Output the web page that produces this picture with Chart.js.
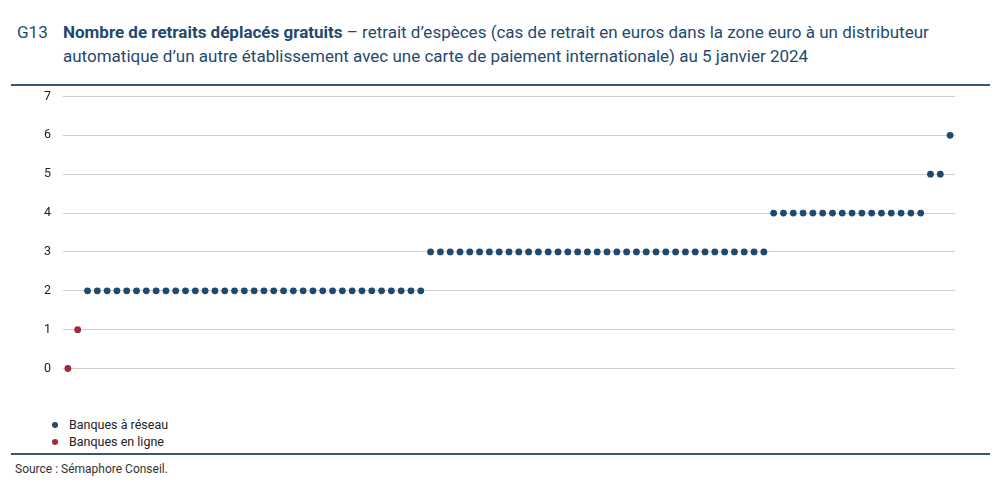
<!DOCTYPE html>
<html>
<head>
<meta charset="utf-8">
<script src="https://cdn.jsdelivr.net/npm/chart.js@4"></script>
<style>
  body { margin: 0; width: 1000px; height: 490px; background: #fff; font-family: Roboto, "Noto Sans", sans-serif; position: relative; overflow: hidden; }
  .title { position: absolute; left: 17px; top: 20px; font-size: 17px; line-height: 24px; color: #1f4a70; }
  .title .num { position: absolute; left: 0; top: 0; }
  .title .txt { position: absolute; left: 46px; top: 0; width: 930px; }
  .title b { font-weight: 700; }
  .rule { position: absolute; left: 11px; width: 979px; height: 1.5px; background: #34587a; }
  #wrap { position: absolute; left: 0; top: 77px; width: 1000px; height: 311px; }
  .legend { position: absolute; left: 52px; top: 416px; font-size: 12.5px; color: #222; line-height: 17px; }
  .legend span.dot { display: inline-block; width: 6px; height: 6px; border-radius: 50%; margin-right: 11px; vertical-align: 1px; }
  .source { position: absolute; left: 15px; top: 462px; font-size: 12px; color: #333; }
</style>
</head>
<body>
<div class="title">
  <span class="num">G13</span>
  <div class="txt"><b>Nombre de retraits déplacés gratuits</b> – retrait d’espèces (cas de retrait en euros dans la zone euro à un distributeur automatique d’un autre établissement avec une carte de paiement internationale) au 5 janvier 2024</div>
</div>
<div id="wrap"><canvas id="dotChart"></canvas></div>
<div class="rule" style="top:84px;"></div>
<div class="legend">
  <div><span class="dot" style="background:#1f4a70"></span>Banques à réseau</div>
  <div><span class="dot" style="background:#a5283a"></span>Banques en ligne</div>
</div>
<div class="rule" style="top:453px;"></div>
<div class="source">Source : Sémaphore Conseil.</div>

<script>
// rang de chaque banque (axe horizontal, non affiché)
const ranks = [
  1, 2, 3, 4, 5, 6, 7, 8, 9, 10, 11, 12, 13, 14, 15, 16, 17, 18, 19, 20,
  21, 22, 23, 24, 25, 26, 27, 28, 29, 30, 31, 32, 33, 34, 35, 36, 37, 38, 39, 40,
  41, 42, 43, 44, 45, 46, 47, 48, 49, 50, 51, 52, 53, 54, 55, 56, 57, 58, 59, 60,
  61, 62, 63, 64, 65, 66, 67, 68, 69, 70, 71, 72, 73, 74, 75, 76, 77, 78, 79, 80,
  81, 82, 83, 84, 85, 86, 87, 88, 89, 90, 91
];

const onlineBanks = [0, 1];

const networkBanks = [
  null, null,
  2, 2, 2, 2, 2, 2, 2, 2, 2, 2, 2, 2, 2, 2, 2, 2, 2, 2, 2, 2,
  2, 2, 2, 2, 2, 2, 2, 2, 2, 2, 2, 2, 2, 2, 2,
  3, 3, 3, 3, 3, 3, 3, 3, 3, 3, 3, 3, 3, 3, 3, 3, 3, 3, 3, 3,
  3, 3, 3, 3, 3, 3, 3, 3, 3, 3, 3, 3, 3, 3, 3,
  4, 4, 4, 4, 4, 4, 4, 4, 4, 4, 4, 4, 4, 4, 4, 4,
  5, 5,
  6
];

const yTicks = [0, 1, 2, 3, 4, 5, 6, 7];

const ctx = document.getElementById('dotChart');
const dotChart = new Chart(ctx, {
    type: 'line',
    data: {
        labels: ranks,
        datasets: [{
            label: 'Banques à réseau',
            data: networkBanks,
            showLine: false,
            clip: false,
            pointRadius: 3.4,
            pointBackgroundColor: '#1f4a70',
            pointBorderWidth: 0
        }, {
            label: 'Banques en ligne',
            data: onlineBanks,
            showLine: false,
            clip: false,
            pointRadius: 3.4,
            pointBackgroundColor: '#a5283a',
            pointBorderWidth: 0
        }]
    },
    options: {
        responsive: true,
        maintainAspectRatio: false,
        animation: false,
        layout: { padding: { top: 2, bottom: 14, right: 45, left: 0 } },
        plugins: { legend: { display: false }, tooltip: { enabled: false } },
        scales: {
            x: { type: 'category', offset: true, display: false },
            y: {
                min: 0,
                max: 7,
                afterFit: function(scale) { scale.width = 63; },
                afterBuildTicks: function(scale) { scale.ticks = yTicks.map(v => ({ value: v })); },
                border: { display: false },
                grid: { color: '#cfcfcf', lineWidth: 1, drawTicks: false },
                ticks: { padding: 12, color: '#222', font: { family: 'Roboto', size: 12.5 } }
            }
        }
    }
});
</script>
</body>
</html>
